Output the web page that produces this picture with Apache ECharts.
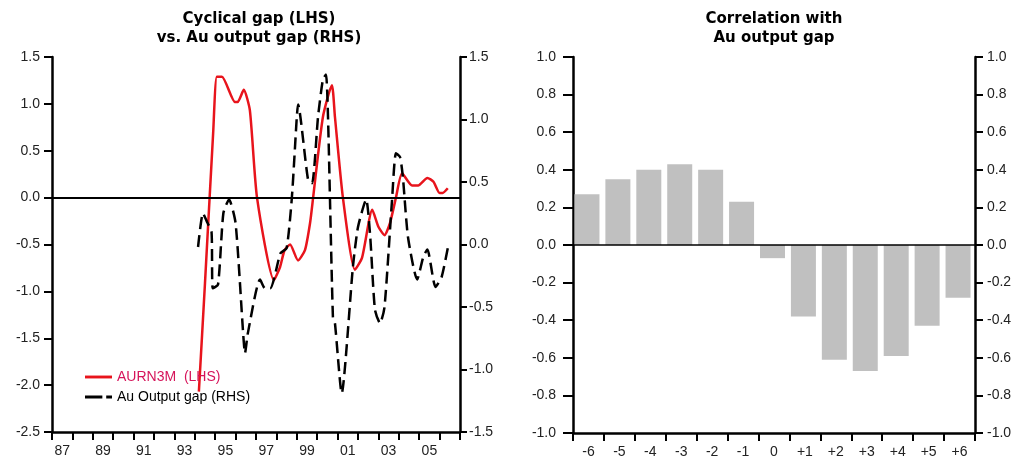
<!DOCTYPE html>
<html>
<head>
<meta charset="utf-8">
<script src="https://cdn.jsdelivr.net/npm/echarts@6/dist/echarts.min.js"></script>
<style>
html,body{margin:0;padding:0;background:#fff;}
#c{width:1016px;height:459px;}
</style>
</head>
<body>
<div id="c"></div>
<script>
// ---------- data ----------
const years = ['1987','1988','1989','1990','1991','1992','1993','1994','1995','1996','1997','1998','1999','2000','2001','2002','2003','2004','2005','2006'];
// AURN3M (LHS) : [decimal year, value]
const aurn3m = [
  [1994.2,-2.07],[1994.5,-0.91],[1994.9,0.69],[1995.08,1.29],[1995.33,1.29],[1995.97,1.02],[1996.1,1.02],
  [1996.4,1.15],[1996.7,0.93],[1997.05,0.0],[1997.88,-0.88],[1998.18,-0.74],[1998.4,-0.56],[1998.67,-0.5],
  [1999.06,-0.67],[1999.4,-0.56],[1999.65,-0.27],[1999.8,0.0],[2000.28,0.86],[2000.72,1.2],[2000.87,0.86],
  [2001.26,0.0],[2001.85,-0.77],[2002.2,-0.64],[2002.7,-0.13],[2003.0,-0.31],[2003.3,-0.40],[2003.57,-0.27],
  [2003.86,0.0],[2004.16,0.26],[2004.65,0.13],[2004.95,0.13],[2005.4,0.21],[2005.7,0.17],[2006.0,0.05],
  [2006.15,0.05],[2006.4,0.10]
];
// Au Output gap (RHS) : [decimal year, value]
const auGap = [
  [1994.16,-0.02],[1994.4,0.25],[1994.6,0.18],[1994.82,0.1],[1994.88,-0.35],[1995.14,-0.32],[1995.4,0.25],
  [1995.68,0.36],[1996.0,0.17],[1996.37,-0.71],[1996.46,-0.87],[1996.6,-0.71],[1997.2,-0.28],[1997.44,-0.35],
  [1997.7,-0.35],[1998.2,-0.07],[1998.5,-0.03],[1998.76,0.38],[1999.0,1.02],[1999.06,1.12],[1999.55,0.52],
  [1999.75,0.49],[2000.04,1.02],[2000.28,1.32],[2000.43,1.36],[2000.53,1.02],[2000.77,-0.58],[2000.87,-0.63],
  [2001.2,-1.19],[2001.75,-0.18],[2002.0,0.14],[2002.4,0.36],[2002.6,0.06],[2002.83,-0.52],[2003.08,-0.63],
  [2003.3,-0.5],[2003.67,0.36],[2003.86,0.73],[2004.06,0.70],[2004.2,0.54],[2004.45,0.06],[2004.9,-0.28],
  [2005.2,-0.1],[2005.4,-0.04],[2005.8,-0.34],[2006.1,-0.26],[2006.4,-0.03]
];
const lags = ['-6','-5','-4','-3','-2','-1','0','+1','+2','+3','+4','+5','+6'];
const corr = [0.27,0.35,0.40,0.43,0.40,0.23,-0.07,-0.38,-0.61,-0.67,-0.59,-0.43,-0.28];

// ---------- chart ----------
const FONT = 'Liberation Sans, Arial, sans-serif';
const TFONT = 'DejaVu Sans, sans-serif';
const lab = {color:'#222', fontSize:14, fontFamily:FONT};
const axLine = {show:true, onZero:false, lineStyle:{color:'#000', width:2.5}};
const tick = len => ({show:true, length:len, lineStyle:{color:'#000', width:2}});
const fmt1 = v => v.toFixed(1);

const chart = echarts.init(document.getElementById('c'), null, {renderer:'canvas'});
chart.setOption({
  animation:false,
  backgroundColor:'#fff',
  title:[
    {text:'Cyclical gap (LHS)\nvs. Au output gap (RHS)', left:254, top:5, textAlign:'center',
     textStyle:{fontFamily:TFONT, fontSize:15, fontWeight:'bold', color:'#000', lineHeight:19}},
    {text:'Correlation with\nAu output gap', left:769, top:5, textAlign:'center',
     textStyle:{fontFamily:TFONT, fontSize:15, fontWeight:'bold', color:'#000', lineHeight:19}}
  ],
  legend:{
    orient:'vertical', left:80, top:365, itemWidth:27, itemHeight:3, itemGap:6,
    textStyle:{fontFamily:FONT, fontSize:14, color:'#000'},
    data:[
      {name:'AURN3M  (LHS)', icon:'path://M0,0H28V3H0Z', textStyle:{color:'#d6145a'}},
      {name:'Au Output gap (RHS)', icon:'path://M0,0H18V3H0Z M22,0H28V3H22Z'}
    ]
  },
  grid:[
    {left:52, right:556, top:57, bottom:27},
    {left:573, right:41, top:57, bottom:26}
  ],
  xAxis:[
    {type:'category', gridIndex:0, data:years, boundaryGap:true,
     axisLine:axLine, axisTick:Object.assign({interval:0}, tick(8)),
     axisLabel:Object.assign({interval:1, margin:12, formatter:v=>v.slice(2)}, lab), splitLine:{show:false}},
    {type:'value', gridIndex:0, min:1987, max:2007, show:false},
    {type:'category', gridIndex:1, data:lags, boundaryGap:true,
     axisLine:axLine, axisTick:Object.assign({interval:0}, tick(8)),
     axisLabel:Object.assign({interval:0, margin:12}, lab), splitLine:{show:false}}
  ],
  yAxis:[
    {type:'value', gridIndex:0, position:'left', min:-2.5, max:1.5, interval:0.5,
     axisLine:axLine, axisTick:tick(8),
     axisLabel:Object.assign({formatter:fmt1, margin:12}, lab), splitLine:{show:false}},
    {type:'value', gridIndex:0, position:'right', min:-1.5, max:1.5, interval:0.5,
     axisLine:axLine, axisTick:tick(7),
     axisLabel:Object.assign({formatter:fmt1, margin:9}, lab), splitLine:{show:false}},
    {type:'value', gridIndex:1, position:'left', min:-1, max:1, interval:0.2,
     axisLine:axLine, axisTick:tick(10),
     axisLabel:Object.assign({formatter:fmt1, margin:17}, lab), splitLine:{show:false}},
    {type:'value', gridIndex:1, position:'right', min:-1, max:1, interval:0.2,
     axisLine:axLine, axisTick:tick(8),
     axisLabel:Object.assign({formatter:fmt1, margin:12}, lab), splitLine:{show:false}}
  ],
  series:[
    {name:'AURN3M  (LHS)', type:'line', xAxisIndex:1, yAxisIndex:0, data:aurn3m,
     symbol:'none', smooth:0.2, lineStyle:{color:'#e8141c', width:2.5}, itemStyle:{color:'#e8141c'}, z:3,
     markLine:{silent:true, symbol:'none', label:{show:false},
       lineStyle:{color:'#000', width:2, type:'solid'}, data:[{yAxis:0}]}},
    {name:'Au Output gap (RHS)', type:'line', xAxisIndex:1, yAxisIndex:1, data:auGap,
     symbol:'none', smooth:0.2, lineStyle:{color:'#000', width:2.5, type:[12,6]}, itemStyle:{color:'#000'}, z:4},
    {name:'corr', type:'bar', xAxisIndex:2, yAxisIndex:2, data:corr, barWidth:25, barGap:0,
     itemStyle:{color:'#c0c0c0'},
     markLine:{silent:true, symbol:'none', label:{show:false},
       lineStyle:{color:'#000', width:1.5, type:'solid'}, data:[{yAxis:0}]}},
    {name:'spacer', type:'bar', xAxisIndex:2, yAxisIndex:2, data:[], barWidth:3, barGap:0}
  ]
});
</script>
</body>
</html>
